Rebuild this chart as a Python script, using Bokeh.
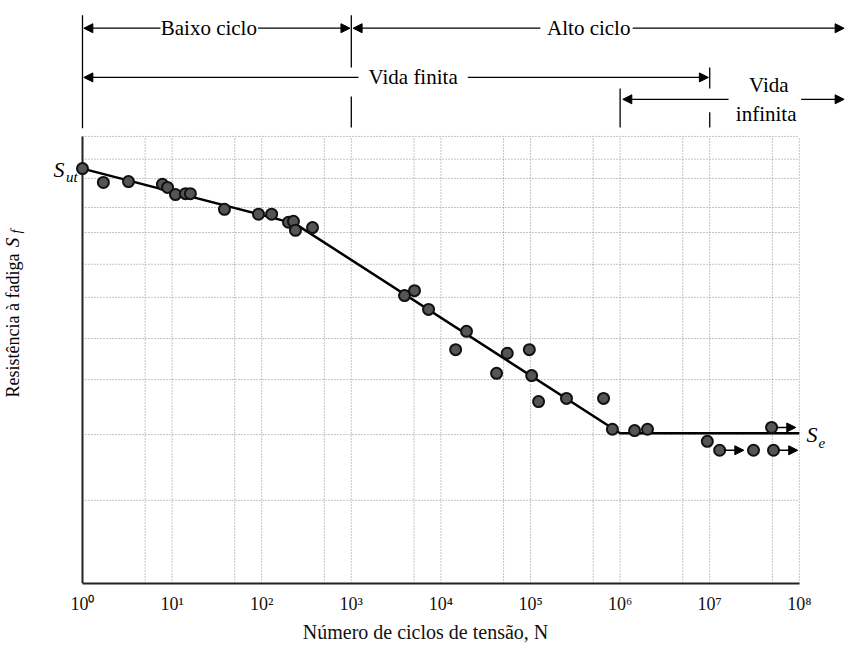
import math
from bokeh.plotting import figure
from bokeh.models import Range1d, FixedTicker, Arrow, NormalHead, CustomJSTickFormatter
from bokeh.core.properties import value
from bokeh.embed import file_html
from bokeh.resources import INLINE

# ---------------- data ----------------
cycles = [1, 1.71, 3.26, 7.8, 8.9, 10.9, 14.1, 16.0, 38.4, 92, 129, 199, 226, 238, 369,
          3926, 5074, 7278, 1.93e4, 1.46e4, 5.5e4, 9.7e4, 4.18e4, 1.03e5, 1.23e5, 2.52e5,
          6.53e5, 8.2e5, 1.45e6, 2.02e6, 9.4e6, 1.29e7, 3.08e7, 5.15e7, 4.9e7]
strength = [92.8, 89.7, 89.9, 89.3, 88.6, 87.0, 87.2, 87.2, 83.7, 82.6, 82.6, 80.8, 81.0, 79.0, 79.6,
            64.4, 65.5, 61.3, 56.4, 52.3, 51.5, 52.3, 47.0, 46.5, 40.7, 41.4,
            41.4, 34.5, 34.2, 34.5, 31.8, 29.8, 29.8, 29.8, 34.9]
runout_cycles = [1.29e7, 5.15e7, 4.9e7]
runout_strength = [29.8, 29.8, 34.9]
curve_cycles = [1, 235, 1e6, 1e8]
curve_strength = [92.8, 80.5, 33.6, 33.6]
tick_values = [1, 10, 100, 1000, 10**4, 10**5, 10**6, 10**7, 10**8]
vgrid = [m * 10**k for k in range(8) for m in (1, 5)][1:] + [10**8]
hgrid = [100, 94.9, 90.6, 84.1, 78.5, 71.4, 64.0, 54.8, 45.6, 33.3, 18.6]

FONT = value("Liberation Serif")

p = figure(width=850, height=645, x_axis_type="log",
           x_range=Range1d(10**-0.915, 10**8.571), y_range=Range1d(0, 130.4),
           output_backend="svg", toolbar_location=None, y_axis_location=None,
           min_border_left=0, min_border_right=0, min_border_top=0, min_border_bottom=62)
p.outline_line_color = None
p.grid.visible = False
p.background_fill_color = "white"

# x axis
ax = p.xaxis[0]
ax.ticker = FixedTicker(ticks=tick_values, minor_ticks=[])
ax.formatter = CustomJSTickFormatter(code="""
const sup = ['\u2070','\u00b9','\u00b2','\u00b3','\u2074','\u2075','\u2076','\u2077','\u2078'];
const k = Math.round(Math.log10(tick));
return '10' + sup[k];
""")
ax.bounds = (1, 1e8)
ax.axis_line_width = 2
ax.axis_line_color = "#222"
ax.major_tick_line_color = None
ax.minor_tick_line_color = None
ax.major_tick_in = 0
ax.major_tick_out = 0
ax.major_label_text_font = "Liberation Serif"
ax.major_label_text_font_size = "18px"
ax.major_label_text_color = "#111"
ax.major_label_standoff = 10
ax.axis_label = "Número de ciclos de tensão, N"
ax.axis_label_text_font = "Liberation Serif"
ax.axis_label_text_font_size = "20px"
ax.axis_label_text_font_style = "normal"
ax.axis_label_text_color = "#111"
ax.axis_label_standoff = 4

# grid (dotted)
p.segment(x0=vgrid, y0=0, x1=vgrid, y1=100, line_dash="1 2", line_color="#8a8a8a", line_width=1)
p.segment(x0=1, y0=hgrid, x1=1e8, y1=hgrid, line_dash="1 2", line_color="#8a8a8a", line_width=1)
# left axis line
p.segment(x0=[1], y0=[0], x1=[1], y1=[100], line_color="#222", line_width=2)

# S-N curve
p.line(curve_cycles, curve_strength, line_color="black", line_width=2.5)

# runout arrows
for n, s in zip(runout_cycles, runout_strength):
    p.add_layout(Arrow(x_start=n * 10**0.05, y_start=s, x_end=n * 10**0.27, y_end=s,
                       line_width=1.5, line_color="black",
                       end=NormalHead(size=9, fill_color="black", line_color="black")))

# points
p.scatter(cycles, strength, size=11, fill_color="#555", line_color="#111", line_width=2)

# labels on the curve
p.text(x=[10**-0.324], y=[92.6], text=["S"], text_font=FONT, text_font_style="italic",
       text_font_size="22px", text_align="left", text_baseline="middle")
p.text(x=[10**-0.185], y=[90.9], text=["ut"], text_font=FONT, text_font_style="italic",
       text_font_size="15px", text_align="left", text_baseline="middle")
p.text(x=[10**8.08], y=[33.3], text=["S"], text_font=FONT, text_font_style="italic",
       text_font_size="22px", text_align="left", text_baseline="middle")
p.text(x=[10**8.215], y=[31.4], text=["e"], text_font=FONT, text_font_style="italic",
       text_font_size="15px", text_align="left", text_baseline="middle")

# y label (rotated)
p.text(x=[10**-0.78], y=[41.6], text=["Resistência à fadiga"], text_font=FONT,
       text_font_size="18px", text_align="left", text_baseline="middle", angle=math.pi / 2)
p.text(x=[10**-0.78], y=[75.2], text=["S"], text_font=FONT, text_font_style="italic",
       text_font_size="19px", text_align="left", text_baseline="middle", angle=math.pi / 2)
p.text(x=[10**-0.735], y=[78.3], text=["f"], text_font=FONT, text_font_style="italic",
       text_font_size="14px", text_align="left", text_baseline="middle", angle=math.pi / 2)

# ---- region annotations above the chart ----
r1, r2, r3 = 124.2, 113.2, 108.3
vert = [(1, 127.1, 101.8), (1e3, 127.1, 115.4), (1e3, 108.9, 102.0),
        (1e7, 115.4, 110.7), (1e7, 105.4, 102.0), (1e6, 110.7, 102.0)]
p.segment(x0=[v[0] for v in vert], y0=[v[1] for v in vert],
          x1=[v[0] for v in vert], y1=[v[2] for v in vert], line_color="black", line_width=1.3)

arrows = [
    (0.87, 0.015, r1), (1.96, 2.985, r1), (5.11, 3.02, r1), (6.14, 8.50, r1),
    (3.08, 0.015, r2), (4.30, 6.985, r2),
    (7.21, 6.03, r3), (8.02, 8.50, r3),
]
for a, b, yy in arrows:
    p.add_layout(Arrow(x_start=10**a, y_start=yy, x_end=10**b, y_end=yy,
                       line_width=1.3, line_color="black",
                       end=NormalHead(size=9, fill_color="black", line_color="black")))

p.text(x=[10**1.41, 10**5.65, 10**3.69, 10**7.66, 10**7.63],
       y=[r1, r1, r2, 111.4, 105.1],
       text=["Baixo ciclo", "Alto ciclo", "Vida finita", "Vida", "infinita"],
       text_font=FONT, text_font_size="21px", text_align="center", text_baseline="middle")

open("out.html", "w").write(file_html(p, INLINE))
